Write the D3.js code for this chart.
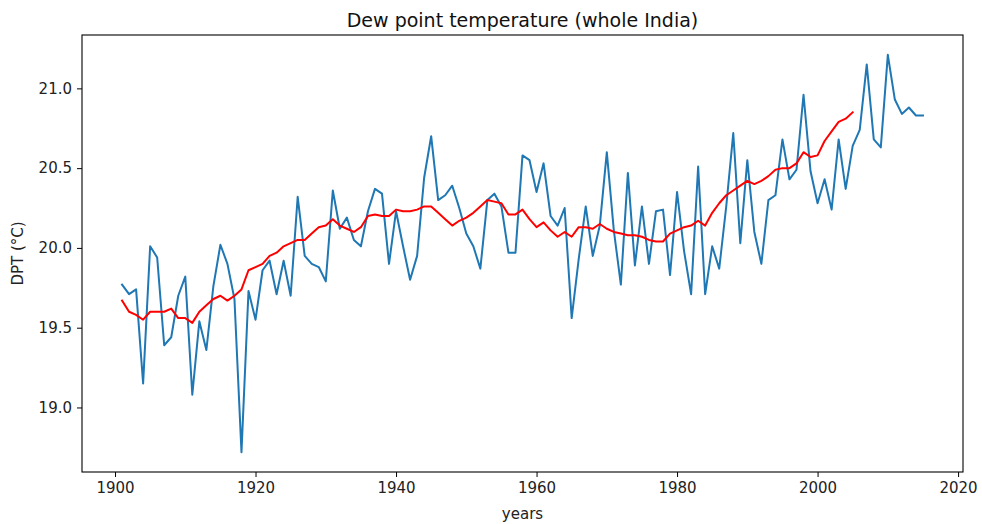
<!DOCTYPE html>
<html>
<head>
<meta charset="utf-8">
<script src="https://cdn.jsdelivr.net/npm/d3@7"></script>
<style>
  html, body { margin: 0; padding: 0; background: #fff; }
  svg { display: block; font-family: "DejaVu Sans", sans-serif; }
</style>
</head>
<body>
<svg id="chart" width="982" height="524"></svg>
<script>
const years = d3.range(1901, 2016);
const dpt = [
  19.77, 19.71, 19.74, 19.15, 20.01, 19.94, 19.39, 19.44, 19.70, 19.82,
  19.08, 19.54, 19.36, 19.76, 20.02, 19.90, 19.68, 18.72, 19.73, 19.55,
  19.86, 19.92, 19.71, 19.92, 19.70, 20.32, 19.95, 19.90, 19.88, 19.79,
  20.36, 20.12, 20.19, 20.05, 20.01, 20.23, 20.37, 20.34, 19.90, 20.23,
  20.01, 19.80, 19.95, 20.44, 20.70, 20.30, 20.33, 20.39, 20.25, 20.09,
  20.01, 19.87, 20.30, 20.34, 20.26, 19.97, 19.97, 20.58, 20.55, 20.35,
  20.53, 20.20, 20.14, 20.25, 19.56, 19.93, 20.26, 19.95, 20.14, 20.60,
  20.11, 19.77, 20.47, 19.89, 20.26, 19.90, 20.23, 20.24, 19.83, 20.35,
  19.98, 19.71, 20.51, 19.71, 20.01, 19.87, 20.26, 20.72, 20.03, 20.55,
  20.10, 19.90, 20.30, 20.33, 20.68, 20.43, 20.49, 20.96, 20.48, 20.28,
  20.43, 20.24, 20.68, 20.37, 20.64, 20.74, 21.15, 20.68, 20.63, 21.21,
  20.93, 20.84, 20.88, 20.83, 20.83
];
const smoothYears = d3.range(1901, 2006);
const smooth = [
  19.67, 19.60, 19.58, 19.55, 19.60, 19.60, 19.60, 19.62, 19.56, 19.56,
  19.53, 19.60, 19.64, 19.68, 19.70, 19.67, 19.70, 19.74, 19.86, 19.88,
  19.90, 19.95, 19.97, 20.01, 20.03, 20.05, 20.05, 20.09, 20.13, 20.14,
  20.18, 20.14, 20.12, 20.10, 20.13, 20.20, 20.21, 20.20, 20.20, 20.24,
  20.23, 20.23, 20.24, 20.26, 20.26, 20.22, 20.18, 20.14, 20.17, 20.19,
  20.22, 20.26, 20.30, 20.29, 20.28, 20.21, 20.21, 20.24, 20.18, 20.13,
  20.16, 20.11, 20.07, 20.10, 20.07, 20.13, 20.13, 20.12, 20.15, 20.12,
  20.10, 20.09, 20.08, 20.08, 20.07, 20.05, 20.04, 20.04, 20.09, 20.11,
  20.13, 20.14, 20.17, 20.14, 20.22, 20.28, 20.33, 20.36, 20.39, 20.42,
  20.40, 20.42, 20.45, 20.49, 20.50, 20.50, 20.53, 20.60, 20.57, 20.58,
  20.67, 20.73, 20.79, 20.81, 20.85
];
const xTicks = [1900, 1920, 1940, 1960, 1980, 2000, 2020];
const yTicks = [19.0, 19.5, 20.0, 20.5, 21.0];
const titleText = "Dew point temperature (whole India)";
const xLabelText = "years";
const yLabelText = "DPT (°C)";

const svg = d3.select("#chart");
const L = 82, R = 963, T = 35, B = 472;

const xExt = d3.extent(years);
const xPad = (xExt[1] - xExt[0]) * 0.05;
const allY = dpt.concat(smooth);
const yExt = d3.extent(allY);
const yPad = (yExt[1] - yExt[0]) * 0.05;

const x = d3.scaleLinear().domain([xExt[0] - xPad, xExt[1] + xPad]).range([L, R]);
const y = d3.scaleLinear().domain([yExt[0] - yPad, yExt[1] + yPad]).range([B, T]);

const line = d3.line().x(d => x(d[0])).y(d => y(d[1]));

svg.append("path")
  .datum(years.map((yr, i) => [yr, dpt[i]]))
  .attr("d", line)
  .attr("fill", "none")
  .attr("stroke", "#1f77b4")
  .attr("stroke-width", 2)
  .attr("stroke-linejoin", "round")
  .attr("stroke-linecap", "square");

svg.append("path")
  .datum(smoothYears.map((yr, i) => [yr, smooth[i]]))
  .attr("d", line)
  .attr("fill", "none")
  .attr("stroke", "#ff0000")
  .attr("stroke-width", 2)
  .attr("stroke-linejoin", "round")
  .attr("stroke-linecap", "square");

// axes
const xAxis = d3.axisBottom(x).tickValues(xTicks).tickFormat(d3.format("d")).tickSizeOuter(0).tickSize(5).tickPadding(5);
const yAxis = d3.axisLeft(y).tickValues(yTicks).tickFormat(d3.format(".1f")).tickSizeOuter(0).tickSize(5).tickPadding(5);

const gx = svg.append("g").attr("transform", `translate(0,${B})`).call(xAxis);
const gy = svg.append("g").attr("transform", `translate(${L},0)`).call(yAxis);
[gx, gy].forEach(g => {
  g.select(".domain").remove();
  g.selectAll("line").attr("stroke", "#000").attr("stroke-width", 1);
  g.selectAll("text").attr("font-size", 15).attr("fill", "#222").attr("font-family", "DejaVu Sans");
});

// frame
svg.append("rect")
  .attr("x", L).attr("y", T).attr("width", R - L).attr("height", B - T)
  .attr("fill", "none").attr("stroke", "#000").attr("stroke-width", 1.1);

svg.append("text")
  .attr("x", (L + R) / 2).attr("y", 27)
  .attr("text-anchor", "middle").attr("font-size", 19).attr("fill", "#111")
  .text(titleText);

svg.append("text")
  .attr("x", (L + R) / 2).attr("y", 519)
  .attr("text-anchor", "middle").attr("font-size", 15).attr("fill", "#222")
  .text(xLabelText);

svg.append("text")
  .attr("transform", `translate(23,${(T + B) / 2}) rotate(-90)`)
  .attr("text-anchor", "middle").attr("font-size", 15).attr("fill", "#222")
  .text(yLabelText);
</script>
</body>
</html>
